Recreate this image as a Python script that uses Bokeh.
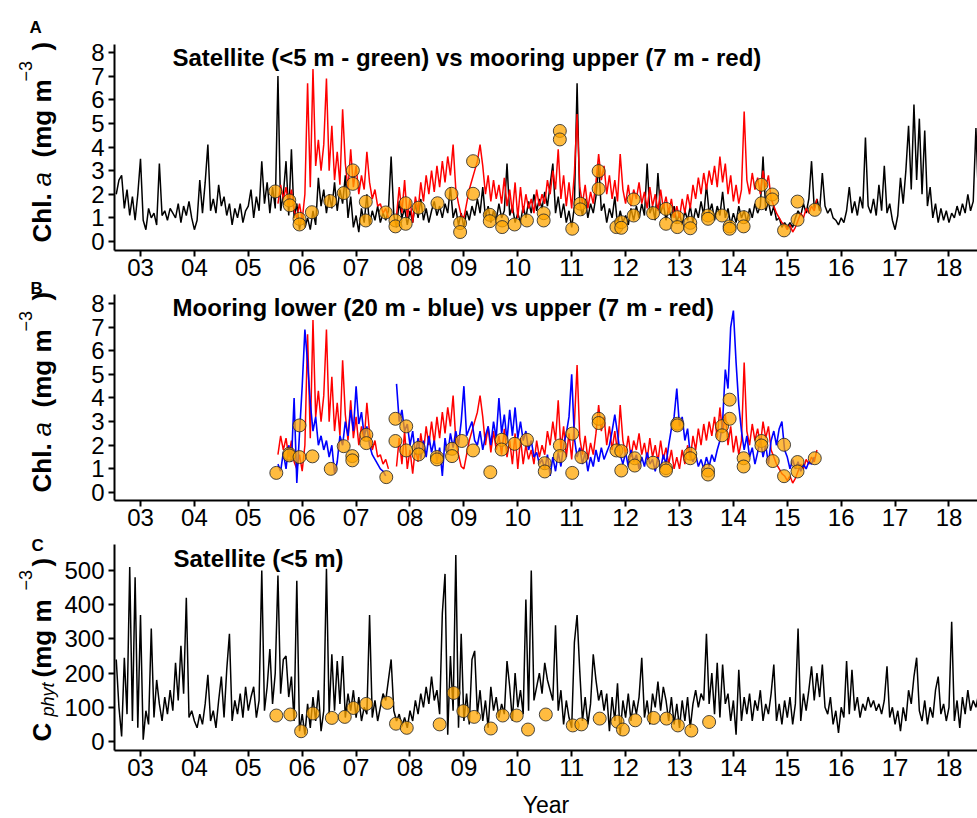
import numpy as np
from bokeh.plotting import figure
from bokeh.layouts import column, row
from bokeh.models import Label, FixedTicker, Range1d
from bokeh.embed import file_html
from bokeh.resources import INLINE

nan = float("nan")

# ---------------- data ----------------
STEP = 0.05            # years between samples
SAT_START = 2002.55    # first satellite sample
MOOR_START = 2005.55   # first mooring sample

# Satellite Chl a (mg m-3), panel A black line
sat_chl = [
    2.0, 2.6, 2.8, 1.4, 2.2, 1.1, 1.9, 0.9, 2.0,
    3.5, 0.9, 0.5, 1.4, 1.0, 1.2, 0.7, 3.3, 1.1, 1.3, 0.9, 1.4, 1.2, 1.0, 1.6, 0.8, 1.5, 1.1, 1.7, 1.0,
    0.5, 0.9, 2.6, 1.2, 2.5, 4.1, 1.3, 1.8, 1.2, 2.4, 1.5, 1.9, 1.1, 1.6, 0.7, 1.4, 1.0, 1.6, 0.8, 1.3,
    1.5, 2.2, 1.0, 1.9, 1.3, 3.4, 1.6, 2.5, 1.2, 2.3, 1.4, 7.0, 1.3, 2.0, 3.4, 1.1, 3.9, 1.0, 1.6, 0.5,
    1.2, 0.6, 1.0, 0.5, 1.3, 0.7, 2.7, 1.5, 2.2, 1.2, 2.0, 1.4, 2.5, 1.3, 2.2, 1.6, 2.8, 1.0, 1.9, 0.6,
    1.1, 0.4, 1.4, 0.8, 2.0, 0.7, 1.3, 0.9, 1.5, 0.8, 1.2, 0.9, 1.3, 3.6, 1.1, 0.6, 1.7, 1.0, 1.4, 0.7,
    1.3, 0.8, 1.6, 1.0, 1.8, 0.9, 1.4, 0.8, 1.3, 1.7, 1.1, 1.5, 1.0, 1.6, 1.2, 2.3, 1.0, 1.4, 0.7, 1.2,
    0.6, 1.3, 0.9, 1.5, 1.1, 1.8, 1.2, 2.3, 1.0, 1.5, 0.8, 1.3, 0.9, 1.6, 1.0, 1.3, 3.3, 1.1, 1.5, 0.8,
    1.2, 0.8, 1.5, 1.0, 1.7, 1.2, 2.0, 1.3, 1.8, 1.4, 2.1, 1.5, 2.4, 3.3, 1.2, 1.9, 1.0, 1.6, 0.8, 1.3,
    0.6, 1.5, 6.7, 1.6, 1.1, 1.8, 1.0, 1.6, 1.2, 1.9, 3.3, 1.3, 1.6, 0.8, 1.4, 1.0, 1.9, 0.7, 1.3, 0.8,
    1.1, 0.7, 1.4, 0.9, 1.5, 1.0, 1.6, 1.1, 3.3, 1.2, 1.5, 0.9, 2.9, 1.2, 1.6, 0.9, 1.4, 1.0, 1.5, 0.8,
    1.2, 0.7, 1.3, 0.9, 1.5, 0.8, 1.4, 1.0, 1.7, 1.1, 2.4, 1.2, 1.6, 0.9, 1.5, 1.1, 2.1, 1.0, 1.4, 0.7,
    1.2, 0.8, 1.5, 1.0, 1.3, 0.8, 1.4, 1.0, 1.6, 1.2, 1.5, 3.6, 1.3, 1.7, 1.1, 1.5, 0.9, 1.0, 0.6, 0.8,
    0.6, 0.8, 0.6, 1.0, 1.3, 1.1, 1.6, 1.2, 1.8, 3.4, 1.4, 1.8, 1.3, 2.9, 1.5, 1.2, 1.4, 1.0, 0.9, 0.7,
    1.0, 0.8, 1.3, 2.3, 1.2, 1.7, 1.1, 1.9, 1.4, 4.4, 1.5, 1.2, 1.8, 1.1, 2.4, 1.3, 3.2, 1.2, 1.6, 0.9,
    0.5, 1.1, 2.7, 1.6, 3.0, 4.9, 2.2, 5.8, 2.6, 5.2, 2.0, 4.7, 1.5, 2.3, 1.0, 1.6, 0.8, 1.4, 0.9, 1.3,
    0.8, 1.2, 1.0, 1.5, 1.1, 1.6, 1.2, 2.0, 1.3, 1.7, 4.8, 1.6,
]

# Mooring upper (7 m) Chl a, red line in panels A and B
moor_upper = [
    1.6, 2.4, 1.8, 2.3, 1.5, 2.2, 1.3, 1.0, 1.6,
    0.9, 2.0, 6.7, 2.3, 7.3, 3.2, 4.3, 3.0, 4.1, 6.9, 3.0, 4.9, 2.6, 3.8, 2.4, 5.6, 3.3, 2.2, 3.9, 2.3,
    3.2, 2.0, 2.8, 2.2, 3.8, 2.5, 1.8, 2.2, 1.5, 1.6, 1.2, 1.4, 1.0, nan, nan, 1.1, 2.3, 1.2, 2.6, 1.0,
    1.8, 0.8, 1.9, 1.3, 2.5, 1.7, 2.8, 2.0, 3.0, 2.1, 3.2, 2.3, 3.4, 2.5, 3.6, 2.8, 4.1, 2.2, 1.6, 1.1,
    1.0, 1.6, 2.2, 2.6, 3.0, 3.4, 4.1, 3.2, 2.0, 2.8, 1.7, 2.6, 1.8, 2.4, 1.6, 2.7, 1.5, 2.2, 1.2, 2.5,
    1.0, 2.3, 1.2, 2.0, 1.4, 1.8, 1.2, 2.2, 1.5, 2.0, 1.6, 2.6, 2.0, 3.0, 2.2, 3.9, 1.8, 2.8, 1.5, 2.5,
    1.4, 2.9, 5.4, 2.3, 1.6, 2.4, 1.4, 2.1, 1.6, 2.5, 3.7, 2.6, 3.2, 2.0, 2.8, 1.8, 2.6, 1.7, 3.7, 2.2,
    1.6, 2.4, 1.5, 2.2, 1.8, 2.5, 1.6, 2.1, 1.4, 2.3, 1.5, 2.0, 1.3, 2.2, 1.4, 1.9, 1.2, 1.8, 1.0, 1.5,
    1.0, 1.8, 1.2, 2.0, 1.4, 2.4, 1.8, 2.7, 2.0, 2.9, 2.2, 3.0, 2.4, 3.2, 2.3, 3.6, 2.5, 3.3, 2.0, 2.8,
    1.7, 2.4, 1.6, 2.2, 5.5, 2.6, 2.0, 2.9, 2.2, 2.7, 2.0, 3.0, 2.3, 2.8, 1.8, 1.5, 1.2, 1.0, 0.8, 0.7,
    0.5, 0.7, 0.4, 0.6, 0.9, 1.2, 1.0, 1.4, 1.2, 1.5, 1.3, 1.8,
]

# Mooring lower (20 m) Chl a, blue line in panel B
moor_lower = [
    1.2, 0.9, 1.7, 1.0, 2.0, 1.3, 4.0, 0.4, 2.5,
    4.5, 6.9, 5.5, 3.8, 2.6, 3.2, 2.0, 2.4, 1.8, 2.2, 1.5, 2.0, 0.8, 1.3, 2.4, 2.0, 3.0, 2.4, 3.5, 2.6,
    4.5, 2.9, 3.4, 2.4, 2.8, 2.0, 1.6, 1.4, 1.2, 1.0, 0.9, 0.7, nan, nan, nan, 4.6, 3.0, 3.5, 2.6, 2.9,
    2.0, 2.6, 1.6, 2.3, 1.4, 2.2, 1.5, 2.4, 1.7, 2.2, 1.3, 1.9, 0.7, 2.3, 1.6, 2.5, 1.9, 2.6, 2.0, 3.0,
    4.5, 2.4, 2.7, 3.0, 2.2, 2.0, 2.6, 1.8, 2.4, 2.8, 2.0, 3.0, 2.3, 4.0, 2.5, 3.3, 2.2, 3.5, 2.4, 3.6,
    2.3, 3.0, 2.2, 2.6, 1.8, 2.2, 1.5, 1.7, 1.2, 1.4, 1.0, 1.6, 0.7, 1.5, 0.9, 1.7, 1.1, 2.0, 2.5, 3.2,
    5.0, 2.3, 1.5, 1.9, 1.2, 1.7, 0.9, 1.5, 1.1, 1.8, 1.3, 1.9, 1.4, 1.7, 2.0, 2.6, 3.3, 2.5, 1.6, 1.2,
    1.7, 1.1, 1.8, 1.3, 1.6, 1.0, 1.5, 1.1, 1.7, 1.2, 1.4, 0.9, 1.5, 1.0, 1.6, 1.2, 2.0, 2.7, 3.2, 4.4,
    2.8, 3.2, 2.2, 2.7, 1.6, 1.3, 1.6, 1.1, 1.4, 1.0, 1.5, 1.1, 1.6, 1.3, 1.8, 2.2, 3.0, 5.2, 4.4, 7.0,
    7.7, 5.5, 3.7, 2.6, 1.8, 2.4, 1.5, 1.9, 1.2, 1.7, 2.3, 1.5, 2.0, 1.2, 2.2, 2.6, 2.0, 2.7, 3.0, 1.8,
    1.5, 1.0, 1.4, 1.0, 1.3, 0.9, 1.2, 1.0, 1.3, 1.2, 1.5,
]

# Satellite C_phyt (mg m-3), panel C black line
sat_cphyt = [
    240, 100, 15, 245, 80, 510, 60, 480, 40,
    370, 5, 90, 50, 330, 70, 180, 110, 60, 130, 80, 150, 90, 230, 120, 280, 140, 420, 70, 90,
    60, 40, 80, 50, 110, 195, 60, 90, 40, 120, 190, 70, 210, 315, 60, 120, 80, 140, 70, 160,
    90, 130, 160, 70, 120, 500, 90, 160, 270, 110, 200, 485, 140, 240, 250, 130, 190, 60, 470, 30,
    80, 20, 110, 40, 130, 60, 150, 30, 90, 505, 80, 255, 90, 235, 110, 250, 70, 140, 90, 150,
    70, 130, 60, 100, 80, 370, 70, 120, 60, 100, 140, 120, 180, 240, 90, 60, 80, 45, 70, 40,
    90, 60, 120, 80, 140, 100, 160, 110, 190, 120, 150, 80, 375, 490, 20, 250, 90, 545, 40, 315,
    60, 140, 50, 240, 265, 80, 150, 60, 120, 40, 160, 90, 130, 70, 110, 80, 235, 160, 60, 200,
    100, 150, 80, 415, 90, 500, 120, 160, 200, 140, 230, 180, 150, 120, 340, 90, 150, 50, 120, 70,
    40, 290, 370, 205, 60, 130, 50, 110, 255, 180, 120, 150, 90, 140, 30, 130, 60, 170, 20, 120,
    70, 140, 60, 120, 80, 130, 245, 70, 120, 50, 140, 100, 175, 90, 160, 120, 60, 130, 50, 110,
    40, 120, 60, 130, 40, 110, 150, 100, 140, 120, 315, 110, 200, 80, 230, 70, 225, 110, 140, 60,
    120, 20, 210, 60, 130, 80, 140, 60, 120, 90, 150, 60, 110, 80, 140, 225, 60, 110, 50, 120,
    70, 130, 50, 110, 330, 60, 140, 90, 150, 220, 120, 200, 130, 225, 100, 80, 130, 50, 90, 25,
    100, 70, 235, 80, 210, 90, 130, 70, 110, 90, 130, 100, 120, 90, 110, 80, 120, 220, 70, 100,
    50, 90, 30, 100, 60, 150, 110, 190, 245, 90, 60, 120, 50, 100, 70, 150, 190, 80, 110, 60,
    100, 350, 60, 120, 40, 130, 80, 150, 90, 120, 100, 140,
]

# In situ samples (orange dots)
insitu_a_year = [2005.50, 2005.76, 2005.77, 2005.95, 2005.95, 2006.18, 2006.52, 2006.77, 2006.94, 2006.94,
                 2007.18, 2007.18, 2007.55, 2007.73, 2007.73, 2007.92, 2007.92, 2008.16, 2008.51, 2008.77,
                 2008.93, 2008.93, 2009.17, 2009.17, 2009.48, 2009.48, 2009.71, 2009.71, 2009.94, 2010.17,
                 2010.48, 2010.48, 2010.78, 2010.78, 2011.01, 2011.16, 2011.16, 2011.50, 2011.50, 2011.83,
                 2011.92, 2011.92, 2012.15, 2012.15, 2012.51, 2012.75, 2012.75, 2012.96, 2012.96, 2013.20,
                 2013.20, 2013.53, 2013.53, 2013.79, 2013.93, 2013.93, 2014.19, 2014.19, 2014.52, 2014.52,
                 2014.72, 2014.72, 2014.94, 2015.19, 2015.19, 2015.51]
insitu_a_chl = [2.12, 1.74, 1.53, 0.96, 0.72, 1.24, 1.71, 2.05, 3.01, 2.44,
                1.68, 0.89, 1.23, 0.89, 0.64, 1.62, 0.75, 1.43, 1.62, 2.02,
                0.78, 0.40, 3.40, 2.02, 1.13, 0.86, 0.89, 0.61, 0.72, 0.89,
                1.20, 0.89, 4.68, 4.32, 0.54, 1.60, 1.36, 2.98, 2.23, 0.61,
                0.82, 0.58, 1.78, 1.10, 1.20, 1.38, 0.75, 1.03, 0.61, 0.79,
                0.56, 1.10, 0.96, 1.10, 0.64, 0.54, 1.03, 0.64, 2.40, 1.62,
                1.99, 1.78, 0.47, 1.69, 0.92, 1.34]

insitu_b_year = [2005.52, 2005.76, 2005.76, 2005.95, 2005.95, 2006.19, 2006.53, 2006.77, 2006.93, 2006.93,
                 2007.19, 2007.19, 2007.56, 2007.73, 2007.73, 2007.93, 2007.93, 2008.16, 2008.16, 2008.50,
                 2008.50, 2008.78, 2008.78, 2008.96, 2009.17, 2009.49, 2009.70, 2009.70, 2009.94, 2010.17,
                 2010.50, 2010.50, 2010.78, 2010.78, 2011.01, 2011.01, 2011.18, 2011.50, 2011.50, 2011.83,
                 2011.92, 2011.92, 2012.17, 2012.17, 2012.51, 2012.75, 2012.75, 2012.96, 2012.96, 2013.20,
                 2013.20, 2013.53, 2013.53, 2013.79, 2013.79, 2013.93, 2013.93, 2014.19, 2014.19, 2014.52,
                 2014.52, 2014.73, 2014.94, 2014.94, 2015.19, 2015.19, 2015.51]
insitu_b_chl = [0.83, 1.64, 1.57, 2.84, 1.50, 1.53, 1.00, 1.96, 1.54, 1.36,
                2.44, 2.09, 0.65, 3.12, 2.18, 2.80, 1.78, 1.89, 1.61, 1.50,
                1.40, 1.85, 1.54, 2.18, 1.78, 0.86, 2.23, 1.82, 2.06, 2.23,
                1.24, 0.89, 1.99, 1.54, 2.49, 0.83, 1.50, 3.12, 2.94, 1.78,
                1.75, 0.93, 1.45, 1.14, 1.26, 1.03, 0.93, 2.91, 2.84, 1.64,
                1.45, 0.93, 0.76, 2.81, 2.42, 3.93, 3.12, 1.45, 1.10, 2.18,
                1.99, 1.33, 2.02, 0.69, 1.29, 0.89, 1.45]

insitu_c_year = [2005.52, 2005.78, 2005.98, 2006.20, 2006.55, 2006.79, 2006.95, 2007.19, 2007.58, 2007.74,
                 2007.94, 2008.55, 2008.81, 2008.99, 2009.19, 2009.50, 2009.72, 2009.98, 2010.19, 2010.52,
                 2011.02, 2011.18, 2011.52, 2011.85, 2011.95, 2012.18, 2012.52, 2012.76, 2012.97, 2013.22,
                 2013.55]
insitu_c_cphyt = [76, 79, 30, 82, 69, 72, 98, 110, 113, 52,
                  40, 50, 142, 89, 72, 38, 76, 76, 35, 79,
                  47, 50, 67, 58, 35, 62, 69, 67, 47, 32,
                  57]

year_ticks = list(range(2003, 2019))
year_labels = ["03", "04", "05", "06", "07", "08", "09", "10", "11", "12", "13", "14", "15", "16", "17", "18"]
chl_ticks = [0, 1, 2, 3, 4, 5, 6, 7, 8]
cphyt_ticks = [0, 100, 200, 300, 400, 500]

titles = ["Satellite (<5 m - green) vs mooring upper (7 m - red)",
          "Mooring lower (20 m - blue) vs upper (7 m - red)",
          "Satellite (<5 m)"]
panel_letters = ["A", "B", "C"]

# ---------------- layout / style ----------------
FONT = "Liberation Sans"
PAGE_W, PAGE_H = 977, 818
LEFT_W = 60                  # strip holding y titles and panel letters
FRAME_LEFT, FRAME_W, FRAME_H = 114, 863, 206
X0, X1 = 2002.5176, 2018.529
RANGE_A = (-0.381, 8.339)
RANGE_B = (-0.339, 8.381)
RANGE_C = (-26.3, 576.0)
TOP_A, TOP_B, TOP_C = 44, 294, 545

sat_x = SAT_START + STEP * np.arange(len(sat_chl))
sat_c_x = SAT_START + STEP * np.arange(len(sat_cphyt))
up_x = MOOR_START + STEP * np.arange(len(moor_upper))
lo_x = MOOR_START + STEP * np.arange(len(moor_lower))


def make_fig(yr, yticks, top, bottom):
    p = figure(frame_width=FRAME_W, frame_height=FRAME_H,
               x_range=Range1d(X0, X1), y_range=Range1d(*yr),
               output_backend="svg", toolbar_location=None,
               min_border_left=FRAME_LEFT - LEFT_W, min_border_right=0,
               min_border_top=top, min_border_bottom=bottom)
    p.grid.visible = False
    p.outline_line_color = None
    p.background_fill_color = "white"
    p.border_fill_color = "white"
    for ax in (p.xaxis[0], p.yaxis[0]):
        ax.axis_line_color = "black"
        ax.axis_line_width = 2
        ax.major_tick_line_color = "black"
        ax.major_tick_line_width = 2
        ax.major_tick_out = 6
        ax.major_tick_in = 0
        ax.minor_tick_line_color = None
        ax.major_label_text_font = FONT
        ax.major_label_text_font_size = "24px"
        ax.major_label_text_color = "black"
    p.xaxis.ticker = FixedTicker(ticks=year_ticks)
    p.xaxis.major_label_overrides = dict(zip(year_ticks, year_labels))
    p.xaxis.major_label_standoff = 2
    p.yaxis.ticker = FixedTicker(ticks=yticks)
    p.yaxis.major_label_standoff = 4
    return p


def add_title(p, frame_top, yr, px, py, text):
    y0, y1 = yr
    dx = X0 + (px - FRAME_LEFT) / FRAME_W * (X1 - X0)
    dy = y1 - (py - frame_top) / FRAME_H * (y1 - y0)
    p.add_layout(Label(x=dx, y=dy, text=text, text_font=FONT, text_font_size="24px",
                       text_font_style="bold", text_align="left", text_baseline="middle",
                       text_color="black"))


def dots(p, x, y):
    p.scatter(x, y, size=13, marker="circle", fill_color="#FFA500", fill_alpha=0.75,
              line_color="#2a2a2a", line_alpha=0.85, line_width=1)


# Panel A
pA = make_fig(RANGE_A, chl_ticks, top=44, bottom=40)
pA.line(sat_x, sat_chl, line_color="black", line_width=1.5)
pA.line(up_x, moor_upper, line_color="#FF0000", line_width=1.5)
dots(pA, insitu_a_year, insitu_a_chl)
add_title(pA, TOP_A, RANGE_A, 172, 57, titles[0])

# Panel B
pB = make_fig(RANGE_B, chl_ticks, top=4, bottom=44)
pB.line(up_x, moor_upper, line_color="#FF0000", line_width=1.5)
pB.line(lo_x, moor_lower, line_color="#0000FF", line_width=1.6)
dots(pB, insitu_b_year, insitu_b_chl)
add_title(pB, TOP_B, RANGE_B, 172, 307, titles[1])

# Panel C
pC = make_fig(RANGE_C, cphyt_ticks, top=0, bottom=68)
pC.line(sat_c_x, sat_cphyt, line_color="black", line_width=1.5)
dots(pC, insitu_c_year, insitu_c_cphyt)
pC.xaxis.axis_label = "Year"
pC.xaxis.axis_label_text_font = FONT
pC.xaxis.axis_label_text_font_size = "23px"
pC.xaxis.axis_label_text_font_style = "normal"
pC.xaxis.axis_label_text_color = "black"
pC.xaxis.axis_label_standoff = 13
add_title(pC, TOP_C, RANGE_C, 173, 559, titles[2])

# Left strip: y-axis titles (rich text in pieces) and panel letters, in page pixels
strip = figure(width=LEFT_W, height=PAGE_H, x_range=Range1d(0, LEFT_W), y_range=Range1d(PAGE_H, 0),
               x_axis_type=None, y_axis_type=None, output_backend="svg", toolbar_location=None,
               min_border=0, outline_line_color=None)
strip.grid.visible = False
strip.background_fill_color = "white"
strip.border_fill_color = "white"


def strip_text(px, py, text, size, style, angle=0):
    strip.add_layout(Label(x=px, y=py, text=text, angle=angle, angle_units="deg",
                           text_font=FONT, text_font_size=f"{size}px", text_font_style=style,
                           text_align="left", text_baseline="alphabetic", text_color="black"))


strip_text(29, 27, panel_letters[0], 17, "bold")
strip_text(30, 288, panel_letters[1], 17, "bold")
strip_text(31, 545, panel_letters[2], 17, "bold")

chl_title = [("Chl.", 41, 0, 26, "bold"), ("a", 41, 56, 26, "italic"),
             ("(mg m", 41, 85, 26, "bold"), ("\u22123", 25, 161, 18, "normal"),
             (")", 41, 192, 26, "bold")]
for base in (242, 492):
    for txt, px, dy, sz, st in chl_title:
        strip_text(px, base - dy, txt, sz, st, angle=90)

for txt, px, py, sz, st in [("C", 41, 741, 26, "bold"), ("phyt", 47, 716, 18, "italic"),
                            ("(mg m", 41, 677, 26, "bold"), ("\u22123", 25, 590, 18, "normal"),
                            (")", 41, 566, 26, "bold")]:
    strip_text(px, py, txt, sz, st, angle=90)

layout = row(strip, column(pA, pB, pC, spacing=0), spacing=0)
open("out.html", "w").write(file_html(layout, INLINE))
